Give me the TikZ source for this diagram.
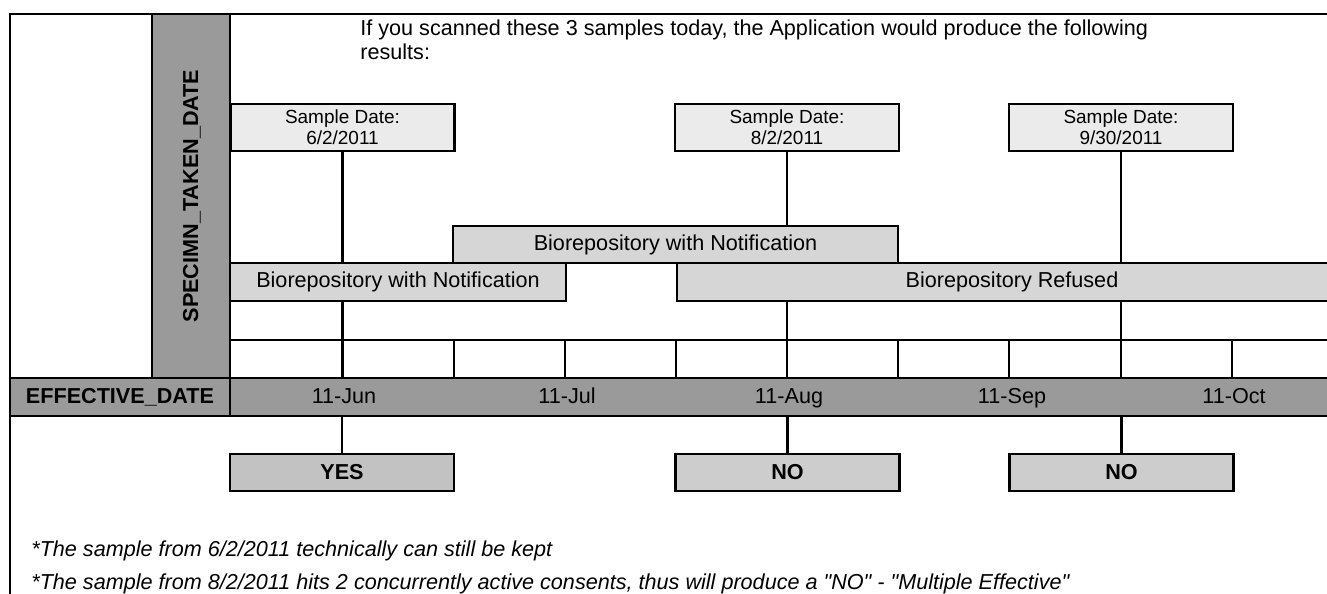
\documentclass[tikz,border=0pt]{standalone}
\usepackage{fontspec}
\setmainfont{Liberation Sans}
\usepackage{xcolor}
\usepackage{tikz}
\usetikzlibrary{positioning, calc}
\definecolor{headgray}{RGB}{154,154,154}
\definecolor{bargray}{RGB}{214,214,214}
\definecolor{samplegray}{RGB}{235,235,235}
\definecolor{resultgray}{RGB}{205,205,205}
\definecolor{yesgray}{RGB}{194,194,194}

\begin{document}
\begin{tikzpicture}[x=0.02cm, y=-0.02cm,
    samplebox/.style={rectangle, draw, line width=1.6pt, fill=samplegray, minimum width=4.48cm, minimum height=0.94cm, align=center, inner sep=0pt, font=\fontsize{10.8}{12.2}\selectfont},
    barbox/.style={rectangle, draw, line width=1.6pt, fill=bargray, minimum height=0.76cm, inner sep=0pt, font=\fontsize{12.3}{14}\selectfont},
    resultbox/.style={rectangle, draw, line width=1.6pt, fill=resultgray, minimum width=4.48cm, minimum height=0.74cm, inner sep=0pt, font=\bfseries\fontsize{12.3}{14}\selectfont},
    headcell/.style={rectangle, fill=headgray, inner sep=0pt, font=\bfseries\fontsize{12.3}{14}\selectfont},
    month/.style={inner sep=0pt, text height=1.75ex, text depth=0.45ex, font=\fontsize{12.3}{14}\selectfont},
    note/.style={anchor=west, inner sep=0pt, font=\itshape\fontsize{12.3}{14}\selectfont},
    link/.style={line width=1.6pt},
    gridline/.style={line width=1.1pt}
]
\useasboundingbox (0,0) rectangle (1327,594);
\clip (0,0) rectangle (1327,594);
\fill[white] (0,0) rectangle (1327,594);

\fill[headgray] (152,14) rectangle (230,378);
\node[headcell, rotate=90] (spec) at (192,196) {SPECIMN\_TAKEN\_DATE};
\node[headcell, minimum width=4.4cm, minimum height=0.76cm] (eff) at (120,397) {EFFECTIVE\_DATE};
\fill[headgray] (230,378) rectangle (1400,416);
\foreach \x/\m [count=\i] in {344/11-Jun, 567/11-Jul, 789/11-Aug, 1012/11-Sep, 1234/11-Oct}
    \node[month] (m\i) at (\x,397) {\m};

\draw[link] (1400,14) -- (10,14) -- (10,700);
\draw[link] (152,14) -- (152,378);
\draw[link] (230,14) -- (230,416);
\draw[link] (10,378) -- (1400,378);
\draw[link] (10,416) -- (1400,416);
\draw[gridline] (230,340) -- (1400,340);
\foreach \x in {343,454,565,676,787,898,1009,1121,1232}
    \draw[gridline] (\x,340) -- (\x,378);

\node[anchor=west, align=left, inner sep=0pt, font=\fontsize{12.3}{13.7}\selectfont] (hd) at (360,40)
    {If you scanned these 3 samples today, the Application would produce the following\\results:};

\node[samplebox] (s1) at (342.5,127.5) {Sample Date:\\6/2/2011};
\node[samplebox] (s2) at (787,127.5) {Sample Date:\\8/2/2011};
\node[samplebox] (s3) at (1121,127.5) {Sample Date:\\9/30/2011};

\node[barbox, minimum width=8.9cm, minimum height=0.74cm] (n2) at (675.5,244.5) {Biorepository with Notification};
\node[barbox, minimum width=6.72cm] (n1) at (398,282) {Biorepository with Notification};
\node[barbox, minimum width=13.4cm] (rf) at (1012,282) {Biorepository Refused};

\draw[link] (s1.south) -- (s1.south |- n1.north);
\draw[link] (s1.south |- n1.south) -- (s1.south |- eff.north);
\draw[link] (s2.south) -- (s2.south |- n2.north);
\draw[link] (s2.south |- rf.south) -- (s2.south |- eff.north);
\draw[link] (s3.south) -- (s3.south |- rf.north);
\draw[link] (s3.south |- rf.south) -- (s3.south |- eff.north);

\node[resultbox, fill=yesgray] (r1) at (342,472.5) {YES};
\node[resultbox] (r2) at (787.5,472.5) {NO};
\node[resultbox] (r3) at (1121.5,472.5) {NO};

\draw[link] (r1.north |- eff.south) -- (r1.north);
\draw[link] (r2.north |- eff.south) -- (r2.north);
\draw[link] (r3.north |- eff.south) -- (r3.north);

\node[note] (f1) at (31,551) {*The sample from 6/2/2011 technically can still be kept};
\node[note] (f2) at (31,584) {*The sample from 8/2/2011 hits 2 concurrently active consents, thus will produce a \textquotedbl NO\textquotedbl{} - \textquotedbl Multiple Effective\textquotedbl};
\end{tikzpicture}
\end{document}
